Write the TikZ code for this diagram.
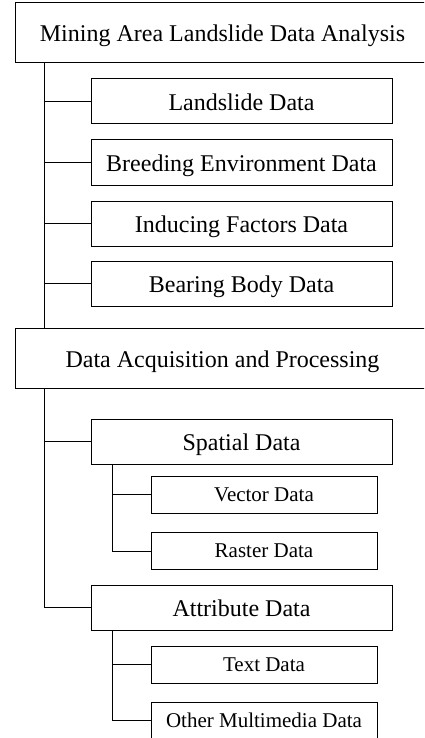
\documentclass[tikz,border=0pt]{standalone}
\usepackage{fontspec}
\setmainfont{Liberation Serif}
\usetikzlibrary{positioning}
\tikzset{
  mainbox/.style={
    draw=black,
    shape=rectangle,
    line width=1pt,
    align=center,
    inner sep=0pt,
    text height=18pt,
    text depth=0pt,
    minimum width=415pt,
    minimum height=60pt,
    font=\fontsize{24}{28}\selectfont
  },
  subbox/.style={
    draw=black,
    shape=rectangle,
    line width=1pt,
    align=center,
    inner sep=0pt,
    text height=18pt,
    text depth=0pt,
    minimum width=301pt,
    minimum height=45pt,
    font=\fontsize{24}{28}\selectfont
  },
  leafbox/.style={
    draw=black,
    shape=rectangle,
    line width=1pt,
    align=center,
    inner sep=0pt,
    text height=13pt,
    text depth=0pt,
    minimum width=226pt,
    minimum height=37pt,
    font=\fontsize{21}{25}\selectfont
  },
  myline/.style={
    draw=black,
    line width=1pt,
  },
}

\begin{document}
\begin{tikzpicture}[x=1pt,y=-1pt]
  \useasboundingbox (0,0) rectangle (424,738);
  \clip (0,0) rectangle (424,738);

  % analysis branch
  \node[mainbox] (mining) at (222.5,33) {Mining Area Landslide Data Analysis};
  \node[subbox] (landslide) at (241.5,101.5) {Landslide Data};
  \node[subbox] (breeding) at (241.5,162.5) {Breeding Environment Data};
  \node[subbox] (inducing) at (241.5,223.5) {Inducing Factors Data};
  \node[subbox] (bearing) at (241.5,283.5) {Bearing Body Data};

  % acquisition branch
  \node[mainbox] (acq) at (222.5,358) {Data Acquisition and Processing};
  \node[subbox] (spatial) at (241.5,441.5) {Spatial Data};
  \node[leafbox] (vector) at (264,494.5) {Vector Data};
  \node[leafbox] (raster) at (264,551) {Raster Data};
  \node[subbox] (attribute) at (241.5,607.5) {Attribute Data};
  \node[leafbox] (textdata) at (264,664.5) {Text Data};
  \node[leafbox] (other) at (264,720.5) {Other Multimedia Data};

  % tree lines
  \foreach \n in {landslide,breeding,inducing,bearing}
    \draw[myline] ([xshift=30pt]mining.south west) |- (\n.west);
  \draw[myline] ([xshift=30pt]mining.south west) -- ([xshift=30pt]acq.north west);
  \foreach \n in {spatial,attribute}
    \draw[myline] ([xshift=30pt]acq.south west) |- (\n.west);
  \foreach \n in {vector,raster}
    \draw[myline] ([xshift=22pt]spatial.south west) |- (\n.west);
  \foreach \n in {textdata,other}
    \draw[myline] ([xshift=22pt]attribute.south west) |- (\n.west);
\end{tikzpicture}
\end{document}
